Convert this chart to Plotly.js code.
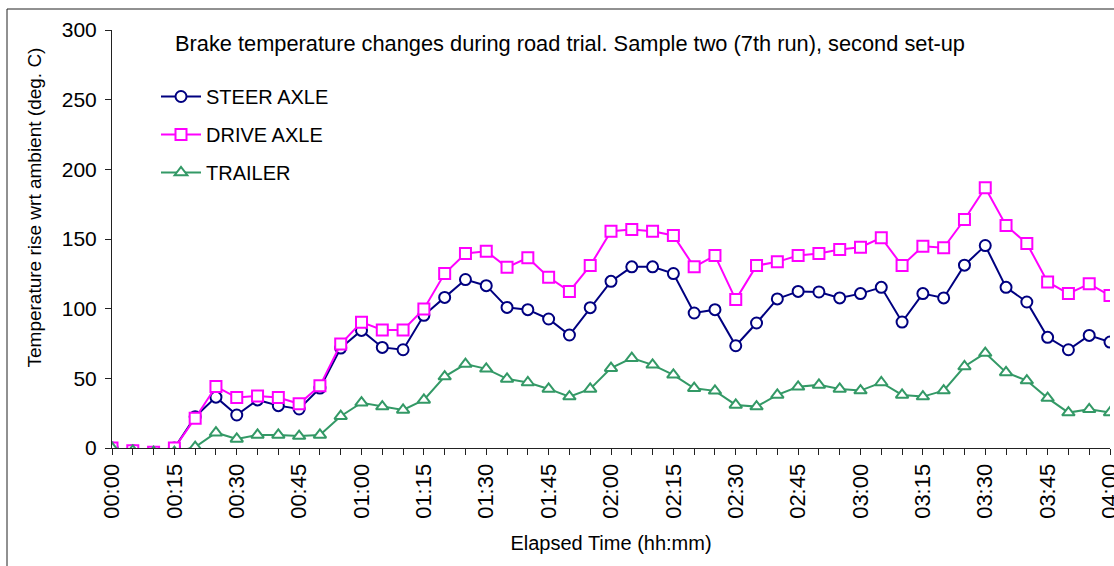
<!DOCTYPE html>
<html>
<head>
<meta charset="utf-8">
<script src="https://cdn.plot.ly/plotly-3.0.1.min.js"></script>
<style>
  html, body { margin: 0; padding: 0; background: #fff; }
  #chart { width: 1114px; height: 566px; }
</style>
</head>
<body>
<div id="chart"></div>
<script>
// Elapsed time in minutes (one reading every 5 minutes)
var elapsedMinutes = [0, 5, 10, 15, 20, 25, 30, 35, 40, 45, 50, 55, 60, 65, 70, 75, 80, 85, 90, 95,
  100, 105, 110, 115, 120, 125, 130, 135, 140, 145, 150, 155, 160, 165, 170, 175, 180, 185, 190, 195,
  200, 205, 210, 215, 220, 225, 230, 235, 240];

var steerAxle = [0, -2, -3, 0, 22.5, 36.5, 23.7, 34.5, 30.4, 28, 43, 71.7, 84.4, 72.2, 70.5, 95.2, 108.1, 120.9, 116.5, 100.9,
  99.3, 92.6, 81.1, 100.7, 119.6, 130, 130, 125.2, 96.9, 99.3, 73.4, 89.7, 107, 112.4, 112, 107.7, 110.8, 115.3, 90.4, 110.8,
  107.7, 131.2, 145.3, 115.3, 104.8, 79.4, 70.5, 80.8, 76];

var driveAxle = [0, -2, -3, 0, 21.4, 44.1, 36.2, 37.4, 36.2, 31.7, 44.6, 74.6, 90.3, 84.7, 84.7, 99.8, 125.2, 139.6, 141.2, 129.7,
  136.5, 122.5, 112.4, 130.9, 155.6, 156.8, 155.6, 152.5, 130, 138.1, 106.5, 130.9, 133.6, 138.1, 139.6, 142.4, 144.1, 150.9, 130.9, 144.8,
  143.7, 164, 186.8, 159.7, 146.8, 119.2, 110.8, 117.8, 109.4];

var trailer = [0, -2, -3, -3, 0.7, 11, 6.5, 9.4, 9.4, 8.6, 9.4, 22.8, 32.5, 29.7, 27.3, 34.5, 51.3, 60.2, 56.8, 49.6,
  47, 42.4, 36.9, 42.4, 57.3, 64.5, 59.7, 52.5, 42.9, 41, 30.9, 29.7, 38.1, 43.9, 45.3, 42.4, 41.2, 47, 38.1, 36.9,
  41.2, 58.5, 68.1, 54.2, 48.4, 35.8, 25.4, 27.8, 25.4];

var tickMinutes = [0, 15, 30, 45, 60, 75, 90, 105, 120, 135, 150, 165, 180, 195, 210, 225, 240];
var tickLabels = ["00:00", "00:15", "00:30", "00:45", "01:00", "01:15", "01:30", "01:45", "02:00",
  "02:15", "02:30", "02:45", "03:00", "03:15", "03:30", "03:45", "04:00"];

var seriesNames = ["STEER AXLE", "DRIVE AXLE", "TRAILER"];

var FONT = "Arial, 'Liberation Sans', sans-serif";

function makeTrace(y, name, color, symbol, group) {
  return {
    x: elapsedMinutes,
    y: y,
    name: name,
    legendgroup: group,
    type: 'scatter',
    mode: 'lines+markers',
    line: { color: color, width: 2 },
    marker: { symbol: symbol, size: 11, color: '#ffffff', line: { color: color, width: 2 } }
  };
}

var data = [
  makeTrace(steerAxle, seriesNames[0], '#000080', 'circle', 'g1'),
  makeTrace(driveAxle, seriesNames[1], '#ff00ff', 'square', 'g2'),
  makeTrace(trailer, seriesNames[2], '#339966', 'triangle-up', 'g3')
];

var layout = {
  width: 1114,
  height: 566,
  margin: { l: 112, r: 4, t: 30, b: 118 },
  paper_bgcolor: '#ffffff',
  plot_bgcolor: '#ffffff',
  font: { family: FONT, color: '#000000', size: 18 },
  title: {
    text: 'Brake temperature changes during road trial. Sample two (7th run), second set-up',
    font: { family: FONT, size: 21.8, color: '#000000' },
    x: 570 / 1114, xanchor: 'center', xref: 'container',
    y: 1 - 43 / 566, yanchor: 'middle', yref: 'container'
  },
  xaxis: {
    range: [0, 240],
    tickmode: 'array',
    tickvals: tickMinutes,
    ticktext: tickLabels,
    tickangle: -90,
    ticks: 'outside',
    ticklen: 6,
    tickcolor: '#222222',
    ticklabeloverflow: 'allow',
    tickfont: { family: FONT, size: 22, color: '#000000' },
    minor: { dtick: 5, tick0: 0, ticks: 'outside', ticklen: 6, tickcolor: '#222222' },
    showline: true,
    linecolor: '#222222',
    linewidth: 1,
    showgrid: false,
    zeroline: false,
    title: { text: 'Elapsed Time (hh:mm)', font: { family: FONT, size: 20, color: '#000000' }, standoff: 18 }
  },
  yaxis: {
    range: [0, 300],
    dtick: 50,
    tick0: 0,
    ticks: 'outside',
    ticklen: 6,
    tickcolor: '#222222',
    ticklabelstandoff: 4,
    tickfont: { family: FONT, size: 21, color: '#000000' },
    showline: true,
    linecolor: '#222222',
    linewidth: 1,
    showgrid: false,
    zeroline: false
  },
  annotations: [{
    text: 'Temperature rise wrt ambient (deg. C)',
    textangle: -90,
    xref: 'paper', yref: 'paper',
    x: (34 - 112) / 998, xanchor: 'center',
    y: (448 - 207.5) / 418, yanchor: 'middle',
    showarrow: false,
    font: { family: FONT, size: 19, color: '#000000' }
  }],
  showlegend: true,
  legend: {
    x: (156 - 112) / 998,
    xanchor: 'left',
    y: (448 - 77) / 418,
    yanchor: 'top',
    bgcolor: 'rgba(0,0,0,0)',
    borderwidth: 0,
    itemwidth: 40,
    tracegroupgap: 9,
    font: { family: FONT, size: 20, color: '#000000' }
  },
  shapes: [{
    type: 'rect',
    xref: 'paper', yref: 'paper',
    x0: (7 - 112) / 998, x1: 1.05,
    y0: -0.5, y1: (448 - 9) / 418,
    line: { color: '#222222', width: 1 },
    fillcolor: 'rgba(0,0,0,0)',
    layer: 'below'
  }]
};

Plotly.newPlot('chart', data, layout, { displayModeBar: false, staticPlot: true });
</script>
</body>
</html>
